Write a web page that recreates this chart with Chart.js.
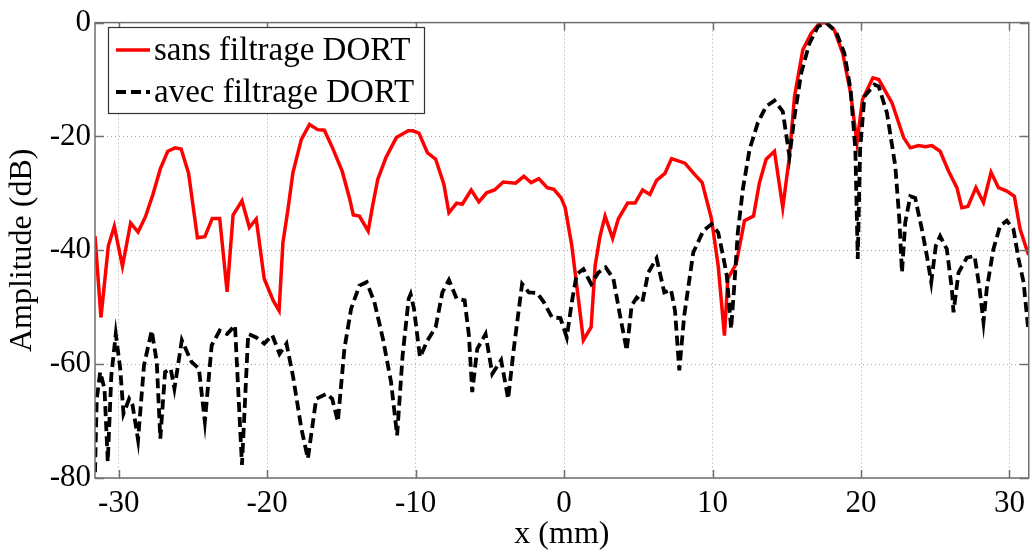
<!DOCTYPE html>
<html>
<head>
<meta charset="utf-8">
<script src="https://cdn.jsdelivr.net/npm/chart.js@4"></script>
<style>
  html, body { margin: 0; padding: 0; background: #fff; }
  canvas { display: block; }
</style>
</head>
<body>
<canvas id="amp-chart" width="1032" height="554"></canvas>
<script>
// Tick labels
const xTicks = [-30, -20, -10, 0, 10, 20, 30];
const yTicks = [-80, -60, -40, -20, 0];

// sans filtrage DORT (x in mm, amplitude in dB)
const sansX = [
  -31.6, -31.2, -30.7, -30.3, -29.75, -29.2, -28.7, -28.2, -27.7, -27.2,
  -26.7, -26.2, -25.8, -25.3, -24.7, -24.2, -23.7, -23.2, -22.7, -22.3,
  -21.7, -21.2, -20.74, -20.2, -19.6, -19.2, -18.94, -18.6, -18.27, -17.7,
  -17.15, -16.6, -16.15, -15.6, -14.95, -14.46, -14.2, -13.79, -13.2, -12.9,
  -12.55, -12.0, -11.3, -10.5, -10.2, -9.78, -9.2, -8.65, -8.1, -7.76,
  -7.24, -6.86, -6.26, -5.74, -5.22, -4.69, -4.1, -3.27, -2.71, -2.22,
  -1.7, -1.14, -0.69, -0.2, 0.07, 0.52, 0.96, 1.3, 1.82, 2.09,
  2.42, 2.76, 3.27, 3.65, 4.28, 4.78, 5.29, 5.78, 6.23, 6.79,
  7.24, 8.14, 8.7, 9.3, 9.93, 10.38, 10.8, 11.03, 11.59, 12.15,
  12.76, 13.16, 13.61, 14.17, 14.73, 15.18, 15.52, 16.08, 16.64, 17.2,
  17.65, 18.2, 18.77, 19.3, 19.73, 20.1, 20.8, 21.2, 22.09, 22.87,
  23.32, 23.88, 24.33, 24.77, 25.33, 25.9, 26.46, 26.79, 27.2, 27.74,
  28.25, 28.76, 29.26, 29.82, 30.33, 30.72, 31.23, 31.3
];
const sansY = [
  -37.5, -51.8, -39.2, -35.8, -42.8, -35.2, -36.8, -34.1, -30.2, -25.7,
  -22.6, -22.0, -22.2, -26.4, -37.8, -37.6, -34.4, -34.4, -47.3, -33.8,
  -31.3, -36.0, -34.5, -45.0, -48.8, -50.6, -38.6, -32.8, -26.4, -20.5,
  -17.9, -18.8, -18.9, -22.0, -26.1, -30.8, -33.8, -34.0, -36.6, -32.2,
  -27.5, -23.7, -20.2, -19.0, -19.0, -19.4, -22.9, -24.0, -28.4, -33.4,
  -31.7, -31.9, -29.4, -31.5, -29.9, -29.4, -28.0, -28.2, -27.0, -28.1,
  -27.4, -29.0, -29.3, -30.8, -32.5, -39.2, -48.5, -55.8, -53.5, -42.7,
  -37.5, -34.0, -37.9, -34.5, -31.7, -31.7, -29.4, -30.2, -27.7, -26.5,
  -23.9, -24.7, -26.4, -28.1, -34.5, -42.7, -55.0, -45.0, -42.4, -34.8,
  -34.0, -28.1, -24.0, -22.6, -32.5, -23.5, -13.0, -4.8, -1.9, -0.1,
  0, -1.3, -5.4, -12.4, -21.1, -13.5, -9.7, -10.0, -14.1, -20.2,
  -22.0, -21.6, -21.8, -21.6, -22.6, -26.1, -29.0, -32.5, -32.3, -29.0,
  -31.6, -26.3, -29.0, -29.6, -30.5, -36.3, -40.4, -40.8
];

// avec filtrage DORT
const avecX = [
  -31.6, -31.48, -31.25, -30.96, -30.74, -30.5, -30.2, -29.9, -29.68, -29.3,
  -29.07, -28.7, -28.3, -27.78, -27.44, -27.2, -26.88, -26.5, -26.25, -25.75,
  -25.1, -24.6, -24.2, -23.74, -23.2, -22.7, -22.17, -21.7, -21.28, -20.74,
  -20.2, -19.66, -19.17, -18.7, -18.27, -17.7, -17.26, -16.7, -16.0, -15.62,
  -15.24, -14.8, -14.35, -13.79, -13.3, -12.78, -12.2, -11.66, -11.25, -10.88,
  -10.47, -10.34, -10.11, -9.71, -9.2, -8.65, -8.2, -7.76, -7.24, -6.7,
  -6.41, -6.19, -5.85, -5.29, -4.84, -4.24, -3.77, -3.39, -2.83, -2.38,
  -1.82, -1.37, -0.81, -0.25, 0.18, 0.52, 0.85, 1.3, 1.82, 2.31,
  2.8, 3.32, 3.77, 4.22, 4.55, 4.89, 5.27, 5.67, 6.23, 6.75,
  7.2, 7.47, 7.76, 8.09, 8.7, 9.37, 9.93, 10.38, 10.75, 10.96,
  11.25, 11.48, 11.7, 12.04, 12.49, 13.05, 13.61, 14.17, 14.73, 15.18,
  15.52, 15.97, 16.53, 17.1, 17.65, 18.32, 18.88, 19.3, 19.62, 19.78,
  19.94, 20.23, 20.9, 21.19, 21.75, 22.31, 22.58, 22.76, 22.98, 23.32,
  23.65, 24.1, 24.44, 24.73, 25.04, 25.33, 25.78, 26.12, 26.23, 26.57,
  27.13, 27.65, 27.96, 28.25, 28.47, 28.92, 29.37, 29.82, 30.27, 30.61,
  30.95, 31.24, 31.3
];
const avecY = [
  -79.0, -66.1, -61.4, -64.3, -77.1, -62.0, -54.7, -60.8, -68.7, -66.1,
  -67.2, -73.3, -60.2, -54.1, -59.6, -73.1, -61.4, -60.8, -64.3, -55.8,
  -59.6, -60.8, -70.1, -56.7, -54.1, -54.7, -53.2, -77.7, -54.7, -55.3,
  -56.4, -54.9, -58.2, -56.4, -62.0, -71.3, -76.6, -66.1, -65.2, -66.1,
  -70.1, -57.3, -50.3, -46.2, -45.6, -49.1, -55.6, -63.1, -72.5, -58.5,
  -48.5, -47.7, -50.3, -58.8, -55.8, -53.5, -47.4, -45.2, -48.5, -48.8,
  -55.0, -64.9, -57.3, -54.7, -61.7, -59.3, -66.1, -57.3, -45.9, -47.4,
  -47.5, -49.1, -51.8, -51.9, -55.3, -49.1, -44.2, -43.3, -45.9, -43.9,
  -43.0, -45.0, -51.5, -57.6, -49.7, -48.3, -49.1, -43.9, -41.4, -47.4,
  -46.9, -50.6, -61.1, -51.5, -40.4, -36.6, -35.4, -36.9, -41.5, -44.5,
  -53.8, -45.6, -36.9, -29.3, -22.3, -17.6, -14.7, -13.7, -15.6, -23.5,
  -16.5, -8.9, -3.6, -0.7, 0, -1.6, -5.4, -11.8, -22.3, -41.5,
  -22.3, -13.0, -10.9, -11.2, -15.9, -25.2, -34.5, -43.9, -35.1, -30.5,
  -30.8, -36.3, -41.0, -45.6, -39.2, -37.5, -39.8, -46.8, -50.9, -43.9,
  -41.3, -41.0, -46.2, -52.6, -46.8, -39.8, -35.7, -34.8, -36.3, -41.5,
  -45.6, -53.2, -54.0
];

const serif = "'Liberation Serif', 'DejaVu Serif', serif";
const frameColor = '#6f6f6f';

// MATLAB style box with inward ticks on all four sides
const boxPlugin = {
  id: 'box',
  afterDatasetsDraw(chart) {
    const { ctx, chartArea: a, scales } = chart;
    ctx.save();
    ctx.strokeStyle = frameColor;
    ctx.lineWidth = 1.5;
    ctx.strokeRect(a.left, a.top, a.right - a.left, a.bottom - a.top);
    ctx.beginPath();
    xTicks.forEach(v => {
      const px = Math.round(scales.x.getPixelForValue(v)) + 0.5;
      ctx.moveTo(px, a.bottom); ctx.lineTo(px, a.bottom - 8);
      ctx.moveTo(px, a.top); ctx.lineTo(px, a.top + 8);
    });
    yTicks.forEach(v => {
      const py = Math.round(scales.y.getPixelForValue(v)) + 0.5;
      ctx.moveTo(a.left, py); ctx.lineTo(a.left + 9, py);
      ctx.moveTo(a.right, py); ctx.lineTo(a.right - 9, py);
    });
    ctx.stroke();
    ctx.restore();
  }
};

// legend box in the upper left corner of the plot
const legendPlugin = {
  id: 'boxLegend',
  afterDraw(chart) {
    const { ctx } = chart;
    const x0 = 108, y0 = 27, w = 316, h = 86;
    ctx.save();
    ctx.fillStyle = '#fff';
    ctx.fillRect(x0, y0, w, h);
    ctx.strokeStyle = '#333';
    ctx.lineWidth = 1.2;
    ctx.strokeRect(x0 + 0.5, y0 + 0.5, w, h);
    ctx.font = '33px ' + serif;
    ctx.textBaseline = 'middle';
    chart.data.datasets.forEach((ds, i) => {
      const yy = y0 + 23 + i * 42;
      ctx.strokeStyle = ds.borderColor;
      ctx.lineWidth = ds.borderWidth;
      ctx.setLineDash(ds.borderDash || []);
      ctx.beginPath();
      ctx.moveTo(x0 + 8, yy);
      ctx.lineTo(x0 + 42, yy);
      ctx.stroke();
      ctx.setLineDash([]);
      ctx.fillStyle = '#000';
      ctx.fillText(ds.label, x0 + 46, yy + 1);
    });
    ctx.restore();
  }
};

const ctx = document.getElementById('amp-chart').getContext('2d');
new Chart(ctx, {
  type: 'scatter',
  data: {
    datasets: [{
      label: 'sans filtrage DORT',
      data: sansX.map((x, i) => ({ x: x, y: sansY[i] })),
      showLine: true,
      borderColor: '#ff0000',
      borderWidth: 3.5,
      pointRadius: 0,
      tension: 0,
      order: 2
    }, {
      label: 'avec filtrage DORT',
      data: avecX.map((x, i) => ({ x: x, y: avecY[i] })),
      showLine: true,
      borderColor: '#000000',
      borderWidth: 3.8,
      borderDash: [10, 5],
      pointRadius: 0,
      tension: 0,
      order: 1
    }]
  },
  options: {
    responsive: false,
    animation: false,
    events: [],
    layout: {
      padding: { top: 21, right: 2, left: 0, bottom: 0 }
    },
    plugins: {
      legend: { display: false },
      tooltip: { enabled: false }
    },
    scales: {
      x: {
        type: 'linear',
        min: -31.6,
        max: 31.3,
        afterBuildTicks: s => { s.ticks = xTicks.map(v => ({ value: v })); },
        afterFit: s => { s.height = 76; },
        grid: { color: '#a0a0a0', lineWidth: 1, drawTicks: false },
        border: { display: false, dash: [1, 3] },
        ticks: {
          color: '#000',
          font: { family: serif, size: 31 },
          padding: 7,
          maxRotation: 0
        },
        title: {
          display: true,
          text: 'x (mm)',
          color: '#000',
          font: { family: serif, size: 32 },
          padding: { top: 0, bottom: 0 }
        }
      },
      y: {
        min: -80,
        max: 0,
        afterBuildTicks: s => { s.ticks = yTicks.map(v => ({ value: v })); },
        afterFit: s => { s.width = 95; },
        grid: { color: '#a0a0a0', lineWidth: 1, drawTicks: false },
        border: { display: false, dash: [1, 3] },
        ticks: {
          color: '#000',
          font: { family: serif, size: 31 },
          padding: 4
        },
        title: {
          display: true,
          text: 'Amplitude (dB)',
          color: '#000',
          font: { family: serif, size: 32 },
          padding: { top: 3, bottom: 0 }
        }
      }
    }
  },
  plugins: [boxPlugin, legendPlugin]
});
</script>
</body>
</html>
